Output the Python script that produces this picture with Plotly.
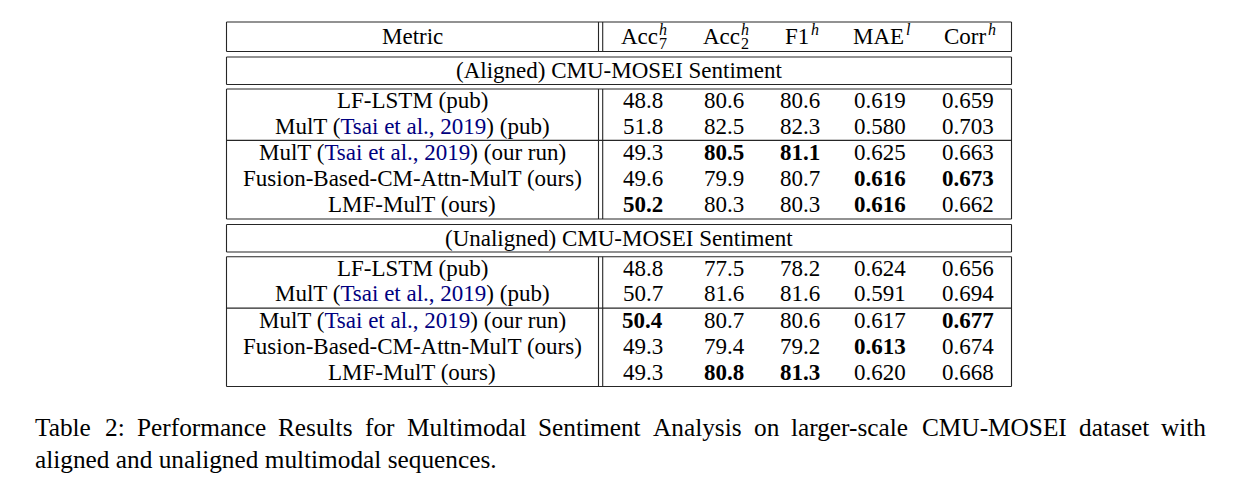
import plotly.graph_objects as go

# ---------------- data ----------------
header_metric = "Metric"
col_base = ["Acc", "Acc", "F1", "MAE", "Corr"]
col_sup = ["h", "h", "h", "l", "h"]
col_sub = ["7", "2", "", "", ""]
col_decimals = [1, 1, 1, 3, 3]

section_titles = ["(Aligned) CMU-MOSEI Sentiment", "(Unaligned) CMU-MOSEI Sentiment"]

CITE = "Tsai et al., 2019"
models = [
    "LF-LSTM (pub)",
    "MulT ({cite}) (pub)",
    "MulT ({cite}) (our run)",
    "Fusion-Based-CM-Attn-MulT (ours)",
    "LMF-MulT (ours)",
]

aligned_acc7 = [48.8, 51.8, 49.3, 49.6, 50.2]
aligned_acc2 = [80.6, 82.5, 80.5, 79.9, 80.3]
aligned_f1 = [80.6, 82.3, 81.1, 80.7, 80.3]
aligned_mae = [0.619, 0.580, 0.625, 0.616, 0.616]
aligned_corr = [0.659, 0.703, 0.663, 0.673, 0.662]
aligned_bold = [
    [0, 0, 0, 0, 0],
    [0, 0, 0, 0, 0],
    [0, 1, 1, 0, 0],
    [0, 0, 0, 1, 1],
    [1, 0, 0, 1, 0],
]

unaligned_acc7 = [48.8, 50.7, 50.4, 49.3, 49.3]
unaligned_acc2 = [77.5, 81.6, 80.7, 79.4, 80.8]
unaligned_f1 = [78.2, 81.6, 80.6, 79.2, 81.3]
unaligned_mae = [0.624, 0.591, 0.617, 0.613, 0.620]
unaligned_corr = [0.656, 0.694, 0.677, 0.674, 0.668]
unaligned_bold = [
    [0, 0, 0, 0, 0],
    [0, 0, 0, 0, 0],
    [1, 0, 0, 0, 1],
    [0, 0, 0, 1, 0],
    [0, 1, 1, 0, 0],
]

caption_line1 = ("Table 2: Performance Results for Multimodal Sentiment Analysis on "
                 "larger-scale CMU-MOSEI dataset with")
caption_line2 = "aligned and unaligned multimodal sequences."

# ---------------- layout helpers ----------------
W, H = 1238, 484
BODY = 8  # default page margin of the html body
FONT = "Liberation Serif"
TS = 23.0     # table font size
CS = 25.3     # caption font size
SCRIPT = 16.0
INK = "#000000"
LINE = "#262626"
CITE_COLOR = "rgb(0,0,128)"

# Times / Liberation Serif advance widths (per 1000 em)
TW = {' ': 250, 'a': 444, 'b': 500, 'c': 444, 'd': 500, 'e': 444, 'f': 333, 'g': 500,
      'h': 500, 'i': 278, 'j': 278, 'k': 500, 'l': 278, 'm': 778, 'n': 500, 'o': 500,
      'p': 500, 'q': 500, 'r': 333, 's': 389, 't': 278, 'u': 500, 'v': 500, 'w': 722,
      'x': 500, 'y': 500, 'z': 444, 'A': 722, 'B': 667, 'C': 667, 'D': 722, 'E': 611,
      'F': 556, 'G': 722, 'H': 722, 'I': 333, 'J': 389, 'K': 722, 'L': 611, 'M': 889,
      'N': 722, 'O': 722, 'P': 556, 'Q': 722, 'R': 667, 'S': 556, 'T': 611, 'U': 722,
      'V': 722, 'W': 944, 'X': 722, 'Y': 722, 'Z': 611, ':': 278, '-': 333, '.': 250,
      ',': 250, '(': 333, ')': 333}
for d in "0123456789":
    TW[d] = 500


def text_w(s, size):
    return sum(TW.get(ch, 500) for ch in s) / 1000.0 * size


X_LEFT, X_RIGHT = 226.5, 1011.5
X_DBL = [598.5, 602.7]
METRIC_CX = 412.0
COL_CX = [642.5, 724.0, 800.0, 879.5, 968.0]

HEADER_BOX = (22.0, 51.5)
SECTION_BOXES = [(57.0, 84.5), (224.5, 252.0)]
DATA_BOXES = [(89.0, 219.0), (256.7, 386.5)]
ROW_H = 25.8
ROW0_OFF = 11.3   # centre of first row below the data box top
SPLIT_AFTER = 2   # rule between "pub" rows and our rows

shapes = []
annotations = []


def hline(y, x0=X_LEFT, x1=X_RIGHT):
    shapes.append(dict(type="line", xref="x", yref="y", x0=x0, x1=x1, y0=y, y1=y,
                       line=dict(color=LINE, width=1.1)))


def vline(x, y0, y1):
    shapes.append(dict(type="line", xref="x", yref="y", x0=x, x1=x, y0=y0, y1=y1,
                       line=dict(color=LINE, width=1.1)))


def box(y0, y1, double=True):
    hline(y0)
    hline(y1)
    vline(X_LEFT, y0, y1)
    vline(X_RIGHT, y0, y1)
    if double:
        for xv in X_DBL:
            vline(xv, y0, y1)


def text(x, y, s, size=TS, anchor="center", color=INK):
    annotations.append(dict(x=x, y=y, xref="x", yref="y", text=s, showarrow=False,
                            xanchor=anchor, yanchor="middle",
                            font=dict(family=FONT, size=size, color=color)))


# ---------------- header ----------------
box(*HEADER_BOX)
hy = (HEADER_BOX[0] + HEADER_BOX[1]) / 2
text(METRIC_CX, hy, header_metric)
for cx, base, sup, sub in zip(COL_CX, col_base, col_sup, col_sub):
    wb = text_w(base, TS)
    ws = max(text_w(sup, SCRIPT), text_w(sub, SCRIPT)) + 1
    x0 = cx - (wb + ws) / 2
    text(x0, hy, base, anchor="left")
    text(x0 + wb + (0.5 if base == "Acc" else 1.5), hy - 7.5, f"<i>{sup}</i>", size=SCRIPT, anchor="left")
    if sub:
        text(x0 + wb + 0.5, hy + 6.5, sub, size=SCRIPT, anchor="left")

# ---------------- sections ----------------
blocks = [
    (aligned_acc7, aligned_acc2, aligned_f1, aligned_mae, aligned_corr, aligned_bold),
    (unaligned_acc7, unaligned_acc2, unaligned_f1, unaligned_mae, unaligned_corr, unaligned_bold),
]

for si, (title, (sy0, sy1), (dy0, dy1), blk) in enumerate(
        zip(section_titles, SECTION_BOXES, DATA_BOXES, blocks)):
    box(sy0, sy1, double=False)
    text((X_LEFT + X_RIGHT) / 2, (sy0 + sy1) / 2, title)

    box(dy0, dy1)
    cols = blk[:5]
    bold = blk[5]
    row_y = [dy0 + ROW0_OFF + ROW_H * r + (0.8 if r > SPLIT_AFTER - 1 else 0) for r in range(len(models))]
    split_y = (row_y[SPLIT_AFTER - 1] + row_y[SPLIT_AFTER]) / 2 + 1.0
    hline(split_y)

    for r, name in enumerate(models):
        label = name.replace("{cite}", f"<span style='color:{CITE_COLOR}'>{CITE}</span>")
        text(METRIC_CX, row_y[r], label)
        for c, (cx, vals, dec) in enumerate(zip(COL_CX, cols, col_decimals)):
            s = f"{vals[r]:.{dec}f}"
            if bold[r][c]:
                s = f"<b>{s}</b>"
            text(cx, row_y[r], s)

# ---------------- caption (justified first line) ----------------
CAP_X0, CAP_X1 = 33.0, 1204.0
words = caption_line1.split(" ")
widths = [text_w(w, CS) for w in words]
gap = (CAP_X1 - CAP_X0 - sum(widths)) / (len(words) - 1)
x = CAP_X0
for w, wd in zip(words, widths):
    text(x, 427.0, w, size=CS, anchor="left")
    x += wd + gap
text(CAP_X0, 459.0, caption_line2, size=CS, anchor="left")

# ---------------- figure ----------------
fig = go.Figure()
fig.update_layout(
    width=W - BODY, height=H - BODY,
    margin=dict(l=0, r=0, t=0, b=0),
    paper_bgcolor="white", plot_bgcolor="white",
    xaxis=dict(range=[BODY, W], visible=False, fixedrange=True),
    yaxis=dict(range=[H, BODY], visible=False, fixedrange=True),
    shapes=shapes,
    annotations=annotations,
    showlegend=False,
)
fig.write_html("out.html")
